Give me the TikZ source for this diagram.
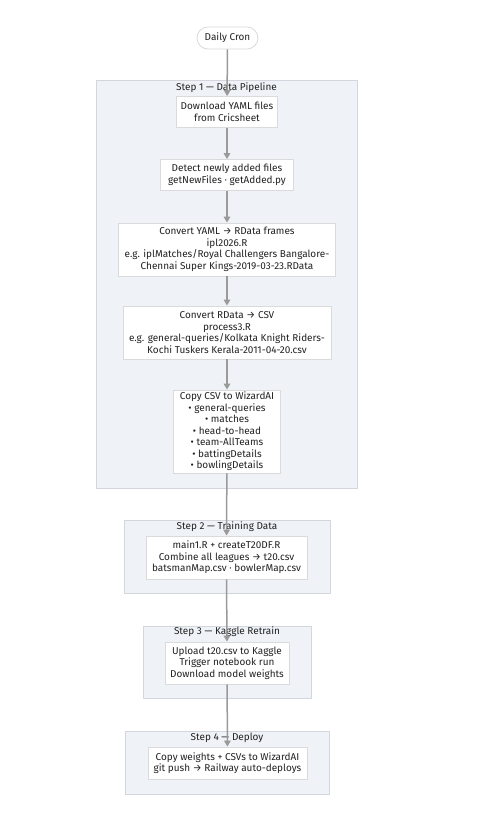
\documentclass[tikz,border=0pt]{standalone}
\usepackage{fontspec}
\setmainfont{Fira Sans}
\usepackage{tikz}
\usetikzlibrary{arrows.meta}
\definecolor{clusterfill}{HTML}{EFF2F7}
\definecolor{clusterline}{HTML}{D3D7DD}
\definecolor{nodeline}{HTML}{DADADA}
\definecolor{edgecol}{HTML}{9A9A9A}
\definecolor{textcol}{HTML}{222222}
\tikzset{
  cluster/.style={draw=clusterline, fill=clusterfill, line width=0.8bp, inner sep=0pt},
  clustertitle/.style={text=textcol, font=\fontsize{10}{11}\selectfont, inner sep=0pt},
  stepbox/.style={draw=nodeline, fill=white, line width=0.8bp, align=center, text=textcol,
    font=\fontsize{10}{11.6}\selectfont, inner sep=0pt},
  flow/.style={draw=edgecol, line width=1.5bp, -{Triangle[length=6bp,width=6.5bp]}},
}

\begin{document}
\begin{tikzpicture}[line join=bevel,]
\useasboundingbox (0bp,0bp) rectangle (503bp,815bp);
%%
% Cluster: step 1
\node[cluster, minimum width=261bp, minimum height=408bp] (step1) at (226.5bp,531bp) {};
\node[clustertitle] (step1t) at (226.5bp,727bp) {Step 1 — Data Pipeline};
% Cluster: step 2
\node[cluster, minimum width=206bp, minimum height=73bp] (step2) at (227bp,258.5bp) {};
\node[clustertitle] (step2t) at (227bp,288bp) {Step 2 — Training Data};
% Cluster: step 3
\node[cluster, minimum width=168bp, minimum height=72bp] (step3) at (227bp,153bp) {};
\node[clustertitle] (step3t) at (227bp,183bp) {Step 3 — Kaggle Retrain};
% Cluster: step 4
\node[cluster, minimum width=204bp, minimum height=63bp] (step4) at (227bp,52.5bp) {};
\node[clustertitle] (step4t) at (227bp,77bp) {Step 4 — Deploy};
%
% Node: cron
\node[stepbox, rounded corners=11bp, minimum width=61bp, minimum height=22bp] (cron) at (227.5bp,777bp) {Daily Cron};
% Node: download
\node[stepbox, minimum width=101bp, minimum height=31bp] (download) at (227bp,703bp) {Download YAML files\\from Cricsheet};
% Node: detect
\node[stepbox, minimum width=133bp, minimum height=31bp] (detect) at (227bp,640bp) {Detect newly added files\\getNewFiles · getAdded.py};
% Node: yaml2rdata
\node[stepbox, minimum width=217bp, minimum height=53bp] (yaml2rdata) at (227bp,565.5bp) {Convert YAML → RData frames\\ipl2026.R\\e.g. iplMatches/Royal Challengers Bangalore-\\Chennai Super Kings-2019-03-23.RData};
% Node: rdata2csv
\node[stepbox, minimum width=208bp, minimum height=53bp] (rdata2csv) at (227bp,482.5bp) {Convert RData → CSV\\process3.R\\e.g. general-queries/Kolkata Knight Riders-\\Kochi Tuskers Kerala-2011-04-20.csv};
% Node: copycsv
\node[stepbox, minimum width=107bp, minimum height=83bp] (copycsv) at (227bp,383.5bp) {Copy CSV to WizardAI\\• general-queries\\• matches\\• head-to-head\\• team-AllTeams\\• battingDetails\\• bowlingDetails};
% Node: combine
\node[stepbox, minimum width=161bp, minimum height=43bp] (combine) at (226.5bp,257.5bp) {main1.R + createT20DF.R\\Combine all leagues → t20.csv\\batsmanMap.csv · bowlerMap.csv};
% Node: kaggle
\node[stepbox, minimum width=124bp, minimum height=42bp] (kaggle) at (227bp,152bp) {Upload t20.csv to Kaggle\\Trigger notebook run\\Download model weights};
% Node: deploy
\node[stepbox, minimum width=159bp, minimum height=32bp] (deploy) at (227.5bp,52bp) {Copy weights + CSVs to WizardAI\\git push → Railway auto-deploys};
%
% Edge: cron -> download
\draw[flow] (cron) -- (download);
% Edge: download -> detect
\draw[flow] (download) -- (detect);
% Edge: detect -> yaml2rdata
\draw[flow] (detect) -- (yaml2rdata);
% Edge: yaml2rdata -> rdata2csv
\draw[flow] (yaml2rdata) -- (rdata2csv);
% Edge: rdata2csv -> copycsv
\draw[flow] (rdata2csv) -- (copycsv);
% Edge: copycsv -> combine
\draw[flow] (copycsv) -- (combine);
% Edge: combine -> kaggle
\draw[flow] (combine) -- (kaggle);
% Edge: kaggle -> deploy
\draw[flow] (kaggle) -- (deploy);
%
\end{tikzpicture}
\end{document}
